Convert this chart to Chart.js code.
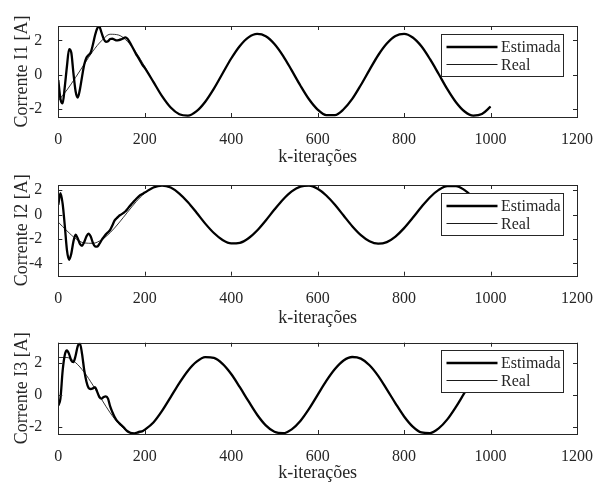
<!DOCTYPE html>
<html>
<head>
    <title>Correntes estimadas</title>
    <script src="https://cdn.jsdelivr.net/npm/chart.js"></script>
    <style>
        body {
            margin: 0;
            background: #fff;
            overflow: hidden;
        }
        #wrap {
            position: relative;
            width: 598px;
            height: 483px;
        }
        canvas {
            position: absolute;
            left: 0;
        }
    </style>
</head>
<body>
<div id="wrap">
    <canvas id="c1" width="598" height="168" style="top:0px"></canvas>
    <canvas id="c2" width="598" height="169" style="top:160px"></canvas>
    <canvas id="c3" width="598" height="164" style="top:320px"></canvas>
</div>

<script>
// iterations of the smooth (real) curves
const kReal = [0, 20, 40, 60, 80, 100, 120, 140, 160, 180, 200, 220, 240, 260, 280, 300, 320, 340, 360, 380,
    400, 420, 440, 460, 480, 500, 520, 540, 560, 580, 600, 620, 640, 660, 680, 700, 720, 740, 760, 780,
    800, 820, 840, 860, 880, 900, 920, 940, 960, 980, 1000];
// iterations of the estimator transient
const kHead = [0, 5, 10, 15, 20, 25, 30, 35, 40, 45, 50, 55, 60, 65, 70, 75, 80, 85, 90, 95,
    100, 105, 110, 115, 120, 125, 130, 135, 140, 145, 150, 155, 160, 165, 170, 175, 180, 185, 190, 195, 200];

const real1 = [-1.50, -0.88, -0.15, 0.62, 1.38, 1.98, 2.36, 2.31, 1.94, 1.30, 0.48, -0.41, -1.24, -1.90, -2.29, -2.37, -2.11, -1.56, -0.80, 0.08,
    0.95, 1.68, 2.18, 2.38, 2.25, 1.80, 1.11, 0.26, -0.62, -1.42, -2.02, -2.34, -2.34, -2.00, -1.40, -0.59, 0.29, 1.14, 1.82, 2.26,
    2.38, 2.17, 1.66, 0.91, 0.05, -0.83, -1.59, -2.13, -2.37, -2.28, -1.85];
const est1Head = [-0.30, -1.40, -1.65, -0.70, 0.50, 1.50, 1.30, 0.10, -0.95, -1.32, -0.85, -0.10, 0.60, 1.00, 1.15, 1.30, 1.75, 2.30, 2.70, 2.80,
    2.45, 2.10, 1.92, 1.95, 2.08, 2.10, 2.05, 2.00, 2.02, 2.06, 2.12, 2.18, 2.10, 1.90, 1.68, 1.45, 1.20, 1.00, 0.78, 0.57, 0.40];

const real2 = [-0.62, -1.33, -1.96, -2.32, -2.35, -2.06, -1.48, -0.69, 0.19, 1.05, 1.76, 2.22, 2.38, 2.21, 1.72, 1.01, 0.15, -0.74, -1.51, -2.08,
    -2.36, -2.31, -1.94, -1.30, -0.48, 0.41, 1.24, 1.90, 2.29, 2.37, 2.11, 1.56, 0.80, -0.08, -0.95, -1.68, -2.18, -2.38, -2.25, -1.80,
    -1.11, -0.26, 0.62, 1.42, 2.02, 2.34, 2.34, 2.00, 1.40, 0.59, -0.29];
const est2Head = [0.80, 1.75, 0.90, -0.90, -2.90, -3.70, -3.20, -2.20, -1.65, -1.95, -2.40, -2.55, -2.25, -1.80, -1.55, -1.80, -2.30, -2.60, -2.62, -2.40,
    -2.10, -1.85, -1.62, -1.45, -1.25, -0.90, -0.50, -0.30, -0.12, 0.00, 0.12, 0.25, 0.45, 0.68, 0.88, 1.08, 1.28, 1.45, 1.60, 1.70, 1.80];

const real3 = [2.34, 2.34, 2.02, 1.42, 0.62, -0.26, -1.10, -1.79, -2.24, -2.38, -2.19, -1.70, -0.98, -0.12, 0.75, 1.52, 2.08, 2.36, 2.31, 1.94,
    1.31, 0.49, -0.38, -1.22, -1.88, -2.28, -2.37, -2.13, -1.61, -0.86, 0.01, 0.88, 1.62, 2.15, 2.37, 2.27, 1.86, 1.20, 0.36, -0.51,
    -1.33, -1.96, -2.32, -2.36, -2.07, -1.51, -0.73, 0.15, 1.00, 1.72, 2.20];
const est3Head = [-0.65, -0.20, 1.50, 2.50, 2.78, 2.55, 2.15, 2.05, 2.45, 3.05, 3.22, 2.55, 1.55, 0.85, 0.45, 0.38, 0.42, 0.50, 0.20, -0.12,
    -0.22, -0.12, -0.08, -0.22, -0.70, -1.05, -1.35, -1.57, -1.72, -1.85, -1.97, -2.12, -2.25, -2.33, -2.37, -2.38, -2.35, -2.30, -2.27, -2.24, -2.15];

const xTicks = [0, 200, 400, 600, 800, 1000, 1200];
const seriesNames = ['Estimada', 'Real'];
const yTitles = ['Corrente I1 [A]', 'Corrente I2 [A]', 'Corrente I3 [A]'];
const xTitle = 'k-iterações';

const FONT = "'Liberation Serif', 'Times New Roman', serif";
const AX = '#262626';
Chart.defaults.font.family = FONT;
Chart.defaults.color = AX;

const panels = [
    { id: 'c1', real: real1, head: est1Head, yMin: -2.45, yMax: 2.84, top: 26, bottom: 117, h: 168 },
    { id: 'c2', real: real2, head: est2Head, yMin: -5.0, yMax: 2.42, top: 25, bottom: 115.7, h: 169 },
    { id: 'c3', real: real3, head: est3Head, yMin: -2.42, yMax: 3.26, top: 22.7, bottom: 114, h: 164 }
];

function pts(ks, vs) {
    return ks.map((k, i) => ({ x: k, y: vs[i] }));
}

// box, inward ticks and in-plot legend, drawn the MATLAB way
const boxPlugin = {
    id: 'boxPlugin',
    afterDraw(chart) {
        const ctx = chart.ctx;
        const a = chart.chartArea;
        const xs = chart.scales.x, ys = chart.scales.y;
        ctx.save();
        ctx.strokeStyle = AX;
        ctx.lineWidth = 1;
        ctx.strokeRect(Math.round(a.left) + 0.5, Math.round(a.top) + 0.5,
            Math.round(a.right) - Math.round(a.left), Math.round(a.bottom) - Math.round(a.top));
        ctx.beginPath();
        xs.ticks.forEach(t => {
            const px = Math.round(xs.getPixelForValue(t.value)) + 0.5;
            ctx.moveTo(px, a.bottom); ctx.lineTo(px, a.bottom - 4);
            ctx.moveTo(px, a.top); ctx.lineTo(px, a.top + 4);
        });
        ys.ticks.forEach(t => {
            const py = Math.round(ys.getPixelForValue(t.value)) + 0.5;
            ctx.moveTo(a.left, py); ctx.lineTo(a.left + 4, py);
            ctx.moveTo(a.right, py); ctx.lineTo(a.right - 4, py);
        });
        ctx.stroke();

        // legend
        const lx = Math.round(a.right - 136.3) + 0.5;
        const ly = Math.round(a.top + 7.5) + 0.5;
        const lw = 122, lh = 42;
        ctx.fillStyle = '#fff';
        ctx.fillRect(lx, ly, lw, lh);
        ctx.strokeStyle = AX;
        ctx.lineWidth = 1;
        ctx.strokeRect(lx, ly, lw, lh);
        const rows = [ly + 12.5, ly + 30];
        const widths = [2.6, 0.9];
        ctx.font = '16px ' + FONT;
        ctx.textBaseline = 'middle';
        ctx.textAlign = 'left';
        seriesNames.forEach((name, i) => {
            ctx.beginPath();
            ctx.strokeStyle = '#000';
            ctx.lineWidth = widths[i];
            ctx.moveTo(lx + 5, rows[i]);
            ctx.lineTo(lx + 56, rows[i]);
            ctx.stroke();
            ctx.fillStyle = AX;
            ctx.fillText(name, lx + 59.5, rows[i] + 1);
        });
        ctx.restore();
    }
};

panels.forEach((p, n) => {
    const est = pts(kHead, p.head).concat(pts(kReal, p.real).filter(d => d.x > 200));
    new Chart(document.getElementById(p.id).getContext('2d'), {
        type: 'line',
        data: {
            datasets: [
                {
                    label: seriesNames[1],
                    data: pts(kReal, p.real),
                    borderColor: '#000',
                    borderWidth: 0.8,
                    pointRadius: 0,
                    cubicInterpolationMode: 'monotone',
                    order: 0
                },
                {
                    label: seriesNames[0],
                    data: est,
                    borderColor: '#000',
                    borderWidth: 2.3,
                    pointRadius: 0,
                    cubicInterpolationMode: 'monotone',
                    order: 1
                }
            ]
        },
        options: {
            responsive: false,
            animation: false,
            devicePixelRatio: 1,
            layout: { padding: { top: p.top, right: 18.7, left: 0, bottom: 0 } },
            plugins: { legend: { display: false }, tooltip: { enabled: false } },
            scales: {
                x: {
                    type: 'linear',
                    min: 0,
                    max: 1200,
                    afterBuildTicks: s => { s.ticks = xTicks.map(v => ({ value: v })); },
                    ticks: {
                        color: AX, font: { family: FONT, size: 16 }, padding: 5, maxRotation: 0, autoSkip: false,
                        callback: v => String(v)
                    },
                    grid: { display: false },
                    border: { display: false },
                    title: { display: true, text: xTitle, color: AX, font: { family: FONT, size: 18 }, padding: { top: 0, bottom: 0 } },
                    afterFit: s => { s.height = p.h - p.bottom; }
                },
                y: {
                    min: p.yMin,
                    max: p.yMax,
                    ticks: {
                        stepSize: 2, includeBounds: false, color: AX, font: { family: FONT, size: 16 }, padding: 8,
                        callback: v => String(v)
                    },
                    grid: { display: false },
                    border: { display: false },
                    title: { display: true, text: yTitles[n], color: AX, font: { family: FONT, size: 18 }, padding: { top: 11, bottom: 0 } },
                    afterFit: s => { s.width = 58.3; }
                }
            }
        },
        plugins: [boxPlugin]
    });
});
</script>
</body>
</html>
